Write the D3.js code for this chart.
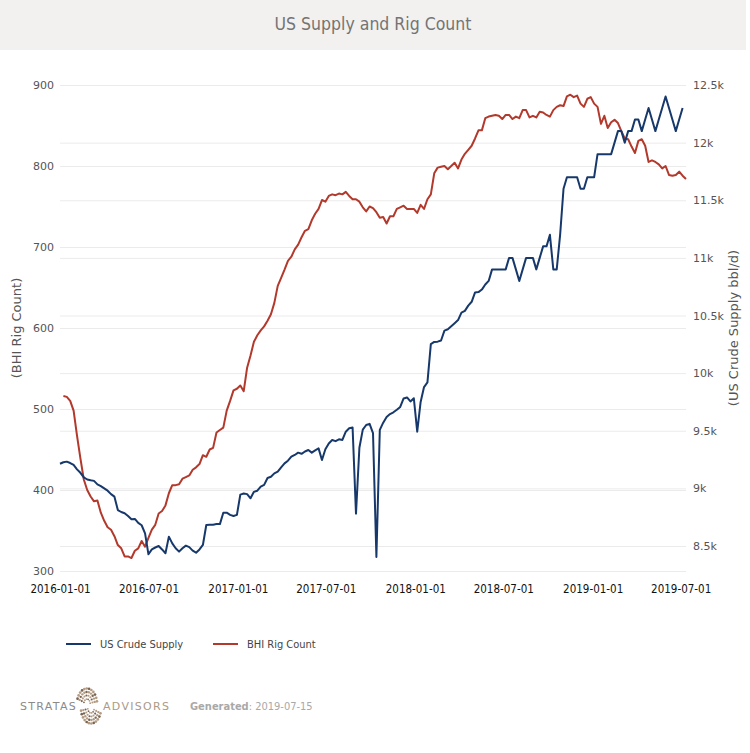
<!DOCTYPE html>
<html><head><meta charset="utf-8">
<script src="https://cdn.jsdelivr.net/npm/d3@7/dist/d3.min.js"></script>
<style>
html,body{margin:0;padding:0;background:#fff;}
svg{display:block;}
.cond{font-family:"DejaVu Sans Condensed","DejaVu Sans",sans-serif;font-stretch:condensed;}
.reg{font-family:"DejaVu Sans",sans-serif;}
</style></head>
<body><div id="chart"></div>
<script>
// ---------- DATA ----------
const titleText = "US Supply and Rig Count";
const supplyStart = "2016-01-01";   // weekly, US crude supply (kbbl/d)
const rigStart = "2016-01-08";      // weekly, BHI rig count
const supplyValues = [
  9214,9227,9232,9220,9203,9165,9135,9095,9077,9070,
  9065,9035,9020,9000,8980,8950,8928,8812,8795,8784,
  8760,8732,8735,8700,8680,8610,8428,8471,8487,8500,
  8470,8437,8581,8523,8480,8451,8480,8503,8490,8460,
  8442,8470,8509,8682,8685,8685,8690,8690,8789,8789,
  8770,8760,8770,
  8946,8955,8950,8914,8970,8980,9015,9030,9090,9101,
  9130,9145,9182,9217,9240,9275,9290,9310,9300,9320,
  9333,9310,9330,9347,9246,9340,9390,9420,9410,9426,
  9420,9492,9521,9528,8781,9353,9510,9550,9560,9480,
  8404,9507,9570,9620,9645,9660,9682,9707,9780,9789,
  9754,9782,
  9492,9750,9879,9919,10251,10271,10273,10283,10369,10381,
  10407,10433,10460,10525,10540,10586,10619,10700,10703,10725,
  10769,10800,10900,10900,10900,10900,10900,11000,11000,10900,
  10800,10900,11000,11000,11000,10900,11000,11100,11100,11200,
  10900,10900,11200,11600,11700,11700,11700,11700,11600,11600,
  11700,11700,
  11700,11900,11900,11900,11900,11900,12000,12100,12100,12000,
  12100,12100,12200,12200,12100,12200,12300,12200,12100,12200,
  12300,12400,12300,12200,12100,12200,12300
];
const rigValues = [
  516,515,510,498,467,439,413,400,392,386,
  387,372,362,354,351,343,332,328,318,318,
  316,325,328,337,330,341,351,357,371,374,
  381,396,406,406,407,414,416,418,425,428,
  432,443,441,450,452,471,474,477,498,510,
  523,525,
  529,522,551,566,583,591,597,602,609,617,
  631,652,662,672,683,688,697,703,712,720,
  722,733,741,747,758,756,763,765,764,766,
  765,768,763,759,759,756,749,744,750,748,
  743,736,737,729,738,738,747,749,751,747,
  747,747,
  742,752,747,759,765,791,798,799,800,796,
  800,804,797,808,815,820,825,834,844,844,
  859,861,862,863,862,858,863,863,858,861,
  859,869,869,860,862,860,867,866,863,861,
  869,873,875,874,886,888,885,887,877,873,
  883,885,
  877,873,852,862,847,854,857,853,843,834,
  833,824,816,831,833,825,805,807,805,802,
  797,800,789,788,789,793,788,784
];
const xTickLabels = ["2016-01-01","2016-07-01","2017-01-01","2017-07-01","2018-01-01","2018-07-01","2019-01-01","2019-07-01"];
const leftTicks = [300,400,500,600,700,800,900];
const rightTicks = [8500,9000,9500,10000,10500,11000,11500,12000,12500];
const rightTickLabels = ["8.5k","9k","9.5k","10k","10.5k","11k","11.5k","12k","12.5k"];
const seriesNames = ["US Crude Supply","BHI Rig Count"];
const leftTitle = "(BHI Rig Count)";
const rightTitle = "(US Crude Supply bbl/d)";
const xDomain = ["2016-01-01","2019-07-12"];
const generatedDate = "2019-07-15";

// ---------- BUILD ----------
const W = 750, H = 753;
const plot = {l: 60, r: 686, t: 85, b: 571};
const colors = {supply: "#17386b", rig: "#b2392b"};
const parse = d3.utcParse("%Y-%m-%d");
const week = (start, i) => d3.utcDay.offset(parse(start), 7 * i);
const supply = supplyValues.map((v, i) => ({d: week(supplyStart, i), v}));
const rig = rigValues.map((v, i) => ({d: week(rigStart, i), v}));

const svg = d3.select("#chart").append("svg").attr("width", W).attr("height", H);
svg.append("rect").attr("width", W).attr("height", H).attr("fill", "#fff");
svg.append("rect").attr("x", 0).attr("y", 0).attr("width", 746).attr("height", 50).attr("fill", "#f2f1ef");
svg.append("text").attr("class", "cond").attr("x", 373).attr("y", 30)
  .attr("text-anchor", "middle").attr("font-size", 17.5).attr("fill", "#747474").text(titleText);

const x = d3.scaleUtc().domain(xDomain.map(parse)).range([plot.l, plot.r]);
const yL = d3.scaleLinear().domain([300, 900]).range([plot.b, plot.t]);
const yR = d3.scaleLinear().domain([8500, 12500]).range([546, plot.t]);

// grid lines
const gL = svg.append("g").attr("transform", `translate(${plot.l},0)`)
  .call(d3.axisLeft(yL).tickValues(leftTicks).tickSize(-(plot.r - plot.l)).tickFormat(""));
gL.select(".domain").remove();
gL.selectAll("line").attr("stroke", "#ebebeb").attr("stroke-width", 1);
const gR = svg.append("g").attr("transform", `translate(${plot.r},0)`)
  .call(d3.axisRight(yR).tickValues(rightTicks).tickSize(-(plot.r - plot.l)).tickFormat(""));
gR.select(".domain").remove();
gR.selectAll("line").attr("stroke", "#ebebeb").attr("stroke-width", 1);

// axis labels
const aL = svg.append("g").attr("transform", `translate(${plot.l - 6},0)`)
  .call(d3.axisLeft(yL).tickValues(leftTicks).tickSize(0).tickPadding(0));
aL.select(".domain").remove();
aL.selectAll("text").attr("class", "reg").attr("font-size", 11).attr("fill", "#555");
const aR = svg.append("g").attr("transform", `translate(${plot.r + 7},0)`)
  .call(d3.axisRight(yR).tickValues(rightTicks).tickSize(0).tickPadding(0)
    .tickFormat((d, i) => rightTickLabels[i]));
aR.select(".domain").remove();
aR.selectAll("text").attr("class", "reg").attr("font-size", 11).attr("fill", "#555");
const aX = svg.append("g").attr("transform", `translate(0,${plot.b + 14})`)
  .call(d3.axisBottom(x).tickValues(xTickLabels.map(parse)).tickSize(0).tickPadding(0)
    .tickFormat(d3.utcFormat("%Y-%m-%d")));
aX.select(".domain").remove();
aX.selectAll("text").attr("class", "cond").attr("font-size", 11.5).attr("fill", "#111");

// axis titles
svg.append("text").attr("class", "reg").attr("transform", `translate(21,${(plot.t + plot.b) / 2}) rotate(-90)`)
  .attr("text-anchor", "middle").attr("font-size", 13).attr("fill", "#555").text(leftTitle);
svg.append("text").attr("class", "reg").attr("transform", `translate(738,${(plot.t + plot.b) / 2}) rotate(-90)`)
  .attr("text-anchor", "middle").attr("font-size", 13).attr("fill", "#555").text(rightTitle);

// lines
svg.append("path").datum(rig).attr("fill", "none").attr("stroke", colors.rig).attr("stroke-width", 2)
  .attr("stroke-linejoin", "round")
  .attr("d", d3.line().x(d => x(d.d)).y(d => yL(d.v)));
svg.append("path").datum(supply).attr("fill", "none").attr("stroke", colors.supply).attr("stroke-width", 2)
  .attr("stroke-linejoin", "round")
  .attr("d", d3.line().x(d => x(d.d)).y(d => yR(d.v)));

// legend
const leg = [{n: seriesNames[0], c: colors.supply, x: 66}, {n: seriesNames[1], c: colors.rig, x: 213}];
leg.forEach(l => {
  svg.append("line").attr("x1", l.x).attr("x2", l.x + 25).attr("y1", 644).attr("y2", 644)
    .attr("stroke", l.c).attr("stroke-width", 2);
  svg.append("text").attr("class", "cond").attr("x", l.x + 34).attr("y", 648)
    .attr("font-size", 11).attr("fill", "#444").text(l.n);
});

// footer logo
svg.append("text").attr("class", "reg").attr("x", 20).attr("y", 710).attr("font-size", 11)
  .attr("letter-spacing", 1.3).attr("fill", "#8a8a8a").text("STRATAS");
svg.append("text").attr("class", "reg").attr("x", 103).attr("y", 710).attr("font-size", 11)
  .attr("letter-spacing", 1.3).attr("fill", "#ab9a86").text("ADVISORS");
const logo = svg.append("g").attr("transform", "translate(89,706)");
const dots = [];
[5, 8.5, 12, 15.5].forEach((r, k) => {
  const n = 6 + k * 2;
  for (let j = 0; j < n; j++) {
    const a1 = -150 + j * (150 / (n - 1));
    dots.push({a: a1 - 10, r: r, s: 0.9 + k * 0.15, top: true});
    dots.push({a: a1 + 170, r: r, s: 0.9 + k * 0.15, top: false});
  }
});
logo.selectAll("circle").data(dots).join("circle")
  .attr("cx", d => (d.top ? -2 : 2) + d.r * 0.65 * Math.cos(d.a * Math.PI / 180))
  .attr("cy", d => (d.top ? -2 : 2) + d.r * 1.0 * Math.sin(d.a * Math.PI / 180))
  .attr("r", d => d.s).attr("fill", (d, i) => i % 3 === 0 ? "#7a6450" : "#b49c84");
const gen = svg.append("text").attr("class", "cond").attr("x", 190).attr("y", 710)
  .attr("font-size", 11).attr("fill", "#a9a9a9");
gen.append("tspan").attr("font-weight", "bold").text("Generated");
gen.append("tspan").text(": " + generatedDate);
</script>
</body></html>
